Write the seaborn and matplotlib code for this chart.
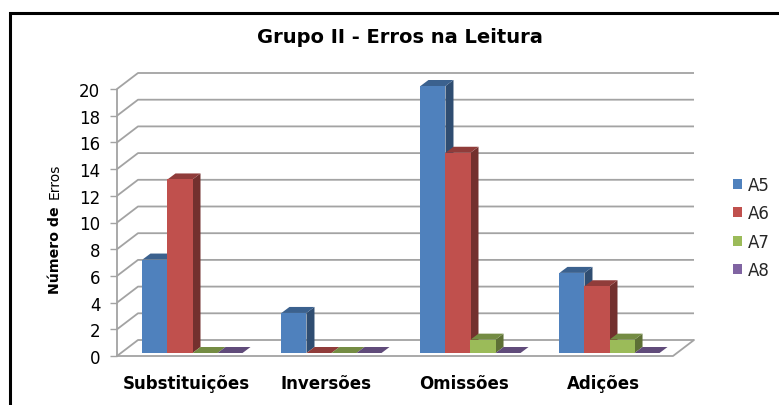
import numpy as np
import pandas as pd
import matplotlib
matplotlib.use('Agg')
import matplotlib.pyplot as plt
import seaborn as sns
from matplotlib.patches import Polygon, Patch, Rectangle
import matplotlib.colors as mcolors

categories = ['Substituições', 'Inversões', 'Omissões', 'Adições']
series = ['A5', 'A6', 'A7', 'A8']
a5 = [7, 3, 20, 6]
a6 = [13, 0, 15, 5]
a7 = [0, 0, 1, 1]
a8 = [0, 0, 0, 0]
yticks = list(range(0, 21, 2))
title = 'Grupo II - Erros na Leitura'
colors = ['#4F81BD', '#C0504D', '#9BBB59', '#8064A2']

df = pd.DataFrame({
    'Categoria': categories * 4,
    'Série': [s for s in series for _ in categories],
    'Valor': a5 + a6 + a7 + a8,
})

sns.set_theme(style='white')
plt.rcParams['font.family'] = ['DejaVu Sans']

W, H = 779, 406
fig = plt.figure(figsize=(W / 100, H / 100), dpi=100)
L, R, B, T = 117, 673, 357, 90
ax = fig.add_axes([L / W, 1 - B / H, (R - L) / W, (B - T) / H])
sns.barplot(data=df, x='Categoria', y='Valor', hue='Série', hue_order=series,
            order=categories, palette=colors, width=0.72, saturation=1,
            ax=ax, legend=False, linewidth=0, errorbar=None)
ax.set_xlim(-0.5, 3.5)
ax.set_ylim(0, 20)
pxx = (R - L) / 4.0
pxy = (B - T) / 20.0

grid_c = '#a3a3a3'
wdx, wdy = 21 / pxx, 16 / pxy
for v in yticks:
    ax.plot([-0.5, -0.5 + wdx, 3.5 + wdx], [v, v + wdy, v + wdy], color=grid_c,
            lw=1.3, clip_on=False, zorder=0.5, solid_capstyle='butt')
ax.plot([-0.5, 3.5, 3.5 + wdx], [0, 0, wdy], color=grid_c, lw=1.3, clip_on=False, zorder=0.5)
ax.plot([-0.5, -0.5], [0, 20], color=grid_c, lw=1.3, clip_on=False, zorder=0.5)

def shade(c, f):
    r, g, b = mcolors.to_rgb(c)
    return (r * f, g * f, b * f)

offx, offy = 6 / pxx, 3 / pxy
ddx, ddy = 8 / pxx, 6 / pxy
bars = sorted(ax.patches, key=lambda p: p.get_x())
for i, p in enumerate(bars):
    x = p.get_x() + offx
    w = p.get_width()
    h = p.get_height()
    p.set_x(x)
    p.set_y(offy)
    fc = p.get_facecolor()
    z = 2 + i * 0.05
    p.set_zorder(z + 0.02)
    p.set_clip_on(False)
    y0 = offy
    side = Polygon([(x + w, y0), (x + w + ddx, y0 + ddy), (x + w + ddx, y0 + h + ddy), (x + w, y0 + h)],
                   closed=True, facecolor=shade(fc, 0.6), edgecolor='none', zorder=z, clip_on=False)
    top = Polygon([(x, y0 + h), (x + w, y0 + h), (x + w + ddx, y0 + h + ddy), (x + ddx, y0 + h + ddy)],
                  closed=True, facecolor=shade(fc, 0.75), edgecolor='none', zorder=z + 0.01, clip_on=False)
    ax.add_patch(side)
    ax.add_patch(top)

for s in ax.spines.values():
    s.set_visible(False)
ax.set_yticks(yticks)
ax.set_yticklabels([str(v) for v in yticks])
ax.tick_params(axis='y', left=True, length=5, width=1, color=grid_c, pad=7, labelsize=12, labelcolor='black')
ax.tick_params(axis='x', length=0, pad=13)
ax.set_xticks(range(len(categories)))
ax.set_xticklabels(categories, fontsize=12, fontweight='bold', color='black')
ax.set_xlabel('')
ax.set_ylabel('')
ax.set_facecolor('none')

fig.text(399.5 / W, 1 - 42.7 / H, title, ha='center', va='baseline', fontsize=14, fontweight='bold', color='black')

fig.text(59 / W, 1 - 294 / H, 'Número de', rotation=90, rotation_mode='anchor', ha='left', va='baseline',
         fontsize=10.2, fontweight='bold', color='black')
fig.text(59 / W, 1 - 199 / H, 'Erros', rotation=90, rotation_mode='anchor', ha='left', va='baseline',
         fontsize=10, color='black')

handles = [Patch(facecolor=c, edgecolor='none') for c in colors]
fig.legend(handles, series, loc='center left', bbox_to_anchor=(733 / W, 1 - 228.5 / H), frameon=False,
           fontsize=12, handlelength=0.55, handleheight=0.55, handletextpad=0.35, labelspacing=0.62,
           borderaxespad=0, borderpad=0)

fig.patches.append(Rectangle((9.5 / W, -0.1), 1.2, 1.1 - 13.5 / H, transform=fig.transFigure,
                             fill=False, edgecolor='black', lw=2.2, zorder=10))

fig.savefig('out.png', dpi=100)
